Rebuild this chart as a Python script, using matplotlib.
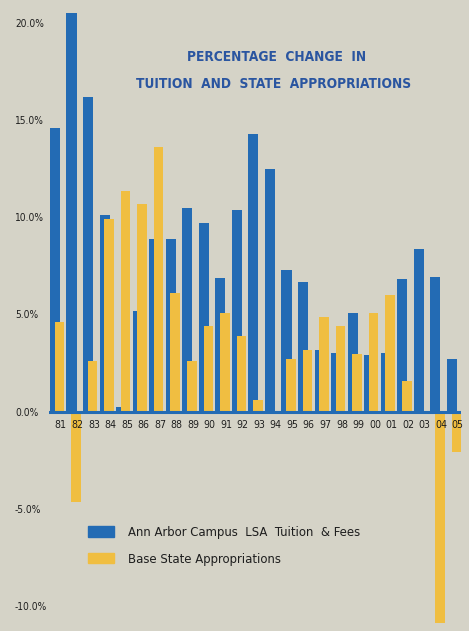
import matplotlib
matplotlib.use("Agg")
import matplotlib.pyplot as plt
from matplotlib.patches import Patch

# data (percent change per year)
years = ["81", "82", "83", "84", "85", "86", "87", "88", "89", "90", "91", "92",
         "93", "94", "95", "96", "97", "98", "99", "00", "01", "02", "03", "04", "05"]
tuition = [14.6, 20.5, 16.2, 10.1, 0.25, 5.2, 8.9, 8.9, 10.5, 9.7, 6.9, 10.4,
           14.3, 12.5, 7.3, 6.65, 3.15, 3.0, 5.05, 2.9, 3.0, 6.85, 8.35, 6.95, 2.7]
state = [4.6, -4.65, 2.6, 9.9, 11.35, 10.7, 13.6, 6.1, 2.6, 4.4, 5.05, 3.9,
         0.6, 0.0, 2.7, 3.15, 4.85, 4.4, 2.95, 5.05, 6.0, 1.55, 0.0, -10.9, -2.1]
yticks = [20, 15, 10, 5, 0, -5, -10]
ytick_labels = ["20.0%", "15.0%", "10.0%", "5.0%", "0.0%", "-5.0%", "-10.0%"]

BG = "#d5d3c7"
BLUE = "#236bb4"
YELLOW = "#f0be41"
TITLE_BLUE = "#2a55a0"
INK = "#1e1e1e"

plt.rcParams["font.family"] = ["DejaVu Sans"]
plt.rcParams["font.stretch"] = "condensed"

fig = plt.figure(figsize=(4.69, 6.31), dpi=100, facecolor=BG)
ax = fig.add_axes([49 / 469, 0, 412 / 469, 1])
ax.set_facecolor(BG)

x = list(range(len(years)))
ax.bar(x, tuition, width=0.61, color=BLUE, zorder=2)
ax.bar([i + 0.27 for i in x], state, width=0.58, color=YELLOW, zorder=3)
ax.axhline(0, color=BLUE, lw=2.2, zorder=4)

# year labels sit just under the zero line
for i, yr in enumerate(years):
    ax.text(i + 0.35, -0.68, yr, ha="center", va="center", fontsize=7.6,
            color=INK, zorder=5)

ax.set_xlim(-0.363, 24.55)
ax.set_ylim(-11.30, 21.19)
ax.set_xticks([])
ax.set_yticks(yticks)
ax.set_yticklabels(ytick_labels, ha="left", fontsize=7.3, color=INK)
ax.tick_params(axis="y", length=0, pad=24.5)
for s in ax.spines.values():
    s.set_visible(False)

fig.text(277 / 469, 1 - 57 / 631, "PERCENTAGE  CHANGE  IN", ha="center", va="center",
         fontsize=9.8, fontweight="bold", color=TITLE_BLUE)
fig.text(274 / 469, 1 - 84 / 631, "TUITION  AND  STATE  APPROPRIATIONS", ha="center",
         va="center", fontsize=9.8, fontweight="bold", color=TITLE_BLUE)

handles = [Patch(color=BLUE), Patch(color=YELLOW)]
fig.legend(handles, ["Ann Arbor Campus  LSA  Tuition  & Fees", "Base State Appropriations"],
           loc="upper left", bbox_to_anchor=(88 / 469, 1 - 526 / 631), frameon=False,
           fontsize=9.4, labelcolor=INK, handlelength=2.0, handleheight=0.82,
           handletextpad=1.05, labelspacing=1.05, borderpad=0, borderaxespad=0)

fig.savefig("out.png", dpi=100, facecolor=BG)
